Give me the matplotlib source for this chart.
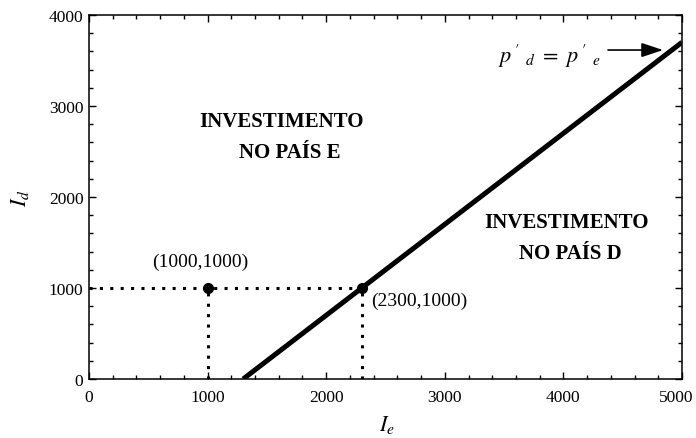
import matplotlib.pyplot as plt
import matplotlib.transforms as mtransforms
from matplotlib.ticker import MultipleLocator

plt.rcParams['font.family'] = ['Liberation Serif', 'DejaVu Serif']
plt.rcParams['mathtext.fontset'] = 'stix'

# indifference line between the two countries
line_x = [1300, 5000]
line_y = [0, 3700]

# marked points
pts_x = [1000, 2300]
pts_y = [1000, 1000]
pts_labels = ['(1000,1000)', '(2300,1000)']

xticks = [0, 1000, 2000, 3000, 4000, 5000]
yticks = [0, 1000, 2000, 3000, 4000]

fig = plt.figure(figsize=(6.96, 4.39), dpi=100)
ax = fig.add_axes([89 / 696, 1 - 380 / 439, 593 / 696, 364 / 439])

ax.plot(line_x, line_y, color='black', linewidth=3.6, solid_capstyle='butt')

# dotted guides to the axes
dot = dict(color='black', linewidth=2.2, linestyle=(0, (1, 2.4)))
ax.plot([0, pts_x[1]], [pts_y[1], pts_y[1]], **dot)
for px, py in zip(pts_x, pts_y):
    ax.plot([px, px], [0, py], **dot)
ax.plot(pts_x, pts_y, 'o', color='black', markersize=7, zorder=5)

ax.text(pts_x[0] - 60, pts_y[0] + 290, pts_labels[0], fontsize=14,
        ha='center', va='center')
ax.text(pts_x[1] + 80, pts_y[1] - 140, pts_labels[1], fontsize=14,
        ha='left', va='center')

bold = dict(fontsize=15, fontweight='bold', ha='center', va='center')
ax.text(1627, 2835, 'INVESTIMENTO', **bold)
ax.text(1695, 2495, 'NO PAÍS E', **bold)
ax.text(4022, 1725, 'INVESTIMENTO', **bold)
ax.text(4056, 1385, 'NO PAÍS D', **bold)

ax.text(3449, 3560, r'$p^{\,\prime}\ _d\ =\ p^{\,\prime}\ _e$', fontsize=16,
        ha='left', va='center')
ax.annotate('', xy=(4840, 3615), xytext=(4376, 3615),
            arrowprops=dict(arrowstyle='-|>,head_length=0.6,head_width=0.2',
                            color='black', lw=1.2, mutation_scale=22,
                            shrinkA=0, shrinkB=0))

ax.set_xlim(0, 5000)
ax.set_ylim(0, 4000)
ax.set_xticks(xticks)
ax.set_yticks(yticks)
ax.xaxis.set_minor_locator(MultipleLocator(200))
ax.yaxis.set_minor_locator(MultipleLocator(200))
ax.tick_params(which='both', direction='in', top=True, right=True,
               labelsize=12.5, width=1)
ax.tick_params(axis='x', which='major', length=5, pad=7)
ax.tick_params(axis='y', which='major', length=5, pad=4)
ax.tick_params(which='minor', length=3)
for s in ax.spines.values():
    s.set_linewidth(1.1)

# nudge the last x label so it stays inside the figure
last = ax.get_xticklabels()[-1]
last.set_transform(last.get_transform() +
                   mtransforms.ScaledTranslation(-4 / 72, 0, fig.dpi_scale_trans))

fig.text(387 / 696, 1 - 425 / 439, r'$I_e$', fontsize=16, ha='center', va='center')
fig.text(20 / 696, 1 - 198 / 439, r'$I_d$', fontsize=16, ha='center', va='center',
         rotation=90)

fig.savefig('out.png', dpi=100)
